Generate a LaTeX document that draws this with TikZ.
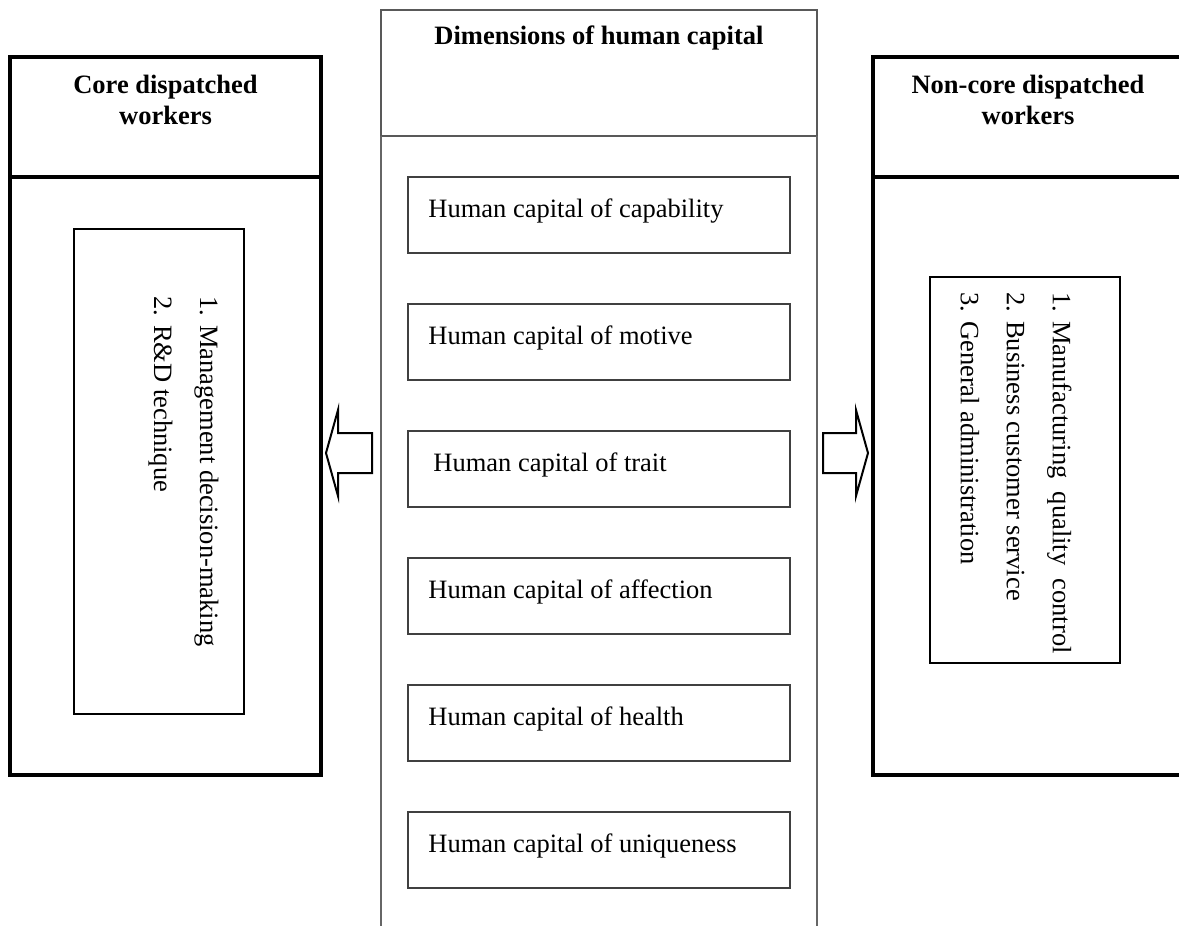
\documentclass[tikz,border=0pt]{standalone}
\usepackage{fontspec}
\setmainfont{Liberation Serif}
\usetikzlibrary{positioning}
\begin{document}
\begin{tikzpicture}
[x=0.5pt,y=-0.5pt,font=\fontsize{13.25}{15.25}\selectfont,%
  bigbox/.style={shape=rectangle,draw,line width=1.75pt,inner sep=0pt,outer sep=0pt},%
  listbox/.style={shape=rectangle,draw,line width=0.9pt,inner sep=0pt,outer sep=0pt},%
  dimbox/.style={shape=rectangle,draw=black!75,line width=0.7pt,inner sep=0pt,outer sep=0pt,%
    minimum width=191pt,minimum height=38pt},%
  headbox/.style={shape=rectangle,draw=black!65,line width=0.7pt,inner sep=0pt,outer sep=0pt,%
    minimum width=218pt,minimum height=63pt},%
  colline/.style={draw=black!60,line width=0.6pt},%
  titletext/.style={anchor=north,align=center,inner sep=0pt,font=\fontsize{13.25}{15.25}\selectfont\bfseries},%
  listtext/.style={rotate=-90,anchor=north west,align=left,inner sep=0pt,font=\fontsize{13.25}{23}\selectfont},%
  blockarrow/.style={draw,line width=1pt,line join=miter}]
\useasboundingbox (0,0) rectangle (1179,926);
\clip (0,0) rectangle (1179,926);
% middle column
\node (hdr) at (599,73) [headbox] {};
\node [anchor=base] at ([yshift=-17.5pt]hdr.north) {\textbf{Dimensions of human capital}};
\coordinate (cbl) at (381,926);
\coordinate (cbr) at (817,926);
\draw[colline] (hdr.south west) -- (cbl);
\draw[colline] (hdr.south east) -- (cbr);
\foreach \i/\txt/\dx in {1/capability/10,2/motive/10,3/trait/12.5,4/affection/10,5/health/10,6/uniqueness/10}{
  \node (d\i) at (599,{215+127*(\i-1)}) [dimbox] {};
  \node [anchor=base west,inner sep=0pt] at ([xshift=\dx pt,yshift=-1pt]d\i.west) {Human capital of \txt};
}
% left side
\node (coretitle) at (165.5,117) [bigbox,minimum width=155.5pt,minimum height=60pt] {};
\node (corebody) [bigbox,minimum width=155.5pt,minimum height=299pt,below=0pt of coretitle] {};
\node [titletext] at ([yshift=-9pt]coretitle.north) {Core dispatched\\workers};
\node (corelist) at (159,471.5) [listbox,minimum width=85pt,minimum height=242.5pt] {};
\node [listtext] at (219,296) {1. Management decision-making\\2. R\&D technique};
% right side
\node (noncoretitle) at (1028,117) [bigbox,minimum width=155pt,minimum height=60pt] {};
\node (noncorebody) [bigbox,minimum width=155pt,minimum height=299pt,below=0pt of noncoretitle] {};
\node [titletext] at ([yshift=-9pt]noncoretitle.north) {Non-core dispatched\\workers};
\node (noncorelist) at (1025,470) [listbox,minimum width=95pt,minimum height=193pt] {};
\node [listtext] at (1072,292) {1. Manufacturing\ \ quality\ \ control\\2. Business customer service\\3. General administration};
% block arrows
\draw[blockarrow] (372,433) -- (338,433) -- (338,410) -- (326,453) -- (338,496) -- (338,473) -- (372,473) -- cycle;
\draw[blockarrow] (823,433) -- (856,433) -- (856,410) -- (868,453) -- (856,496) -- (856,473) -- (823,473) -- cycle;
\end{tikzpicture}
\end{document}
